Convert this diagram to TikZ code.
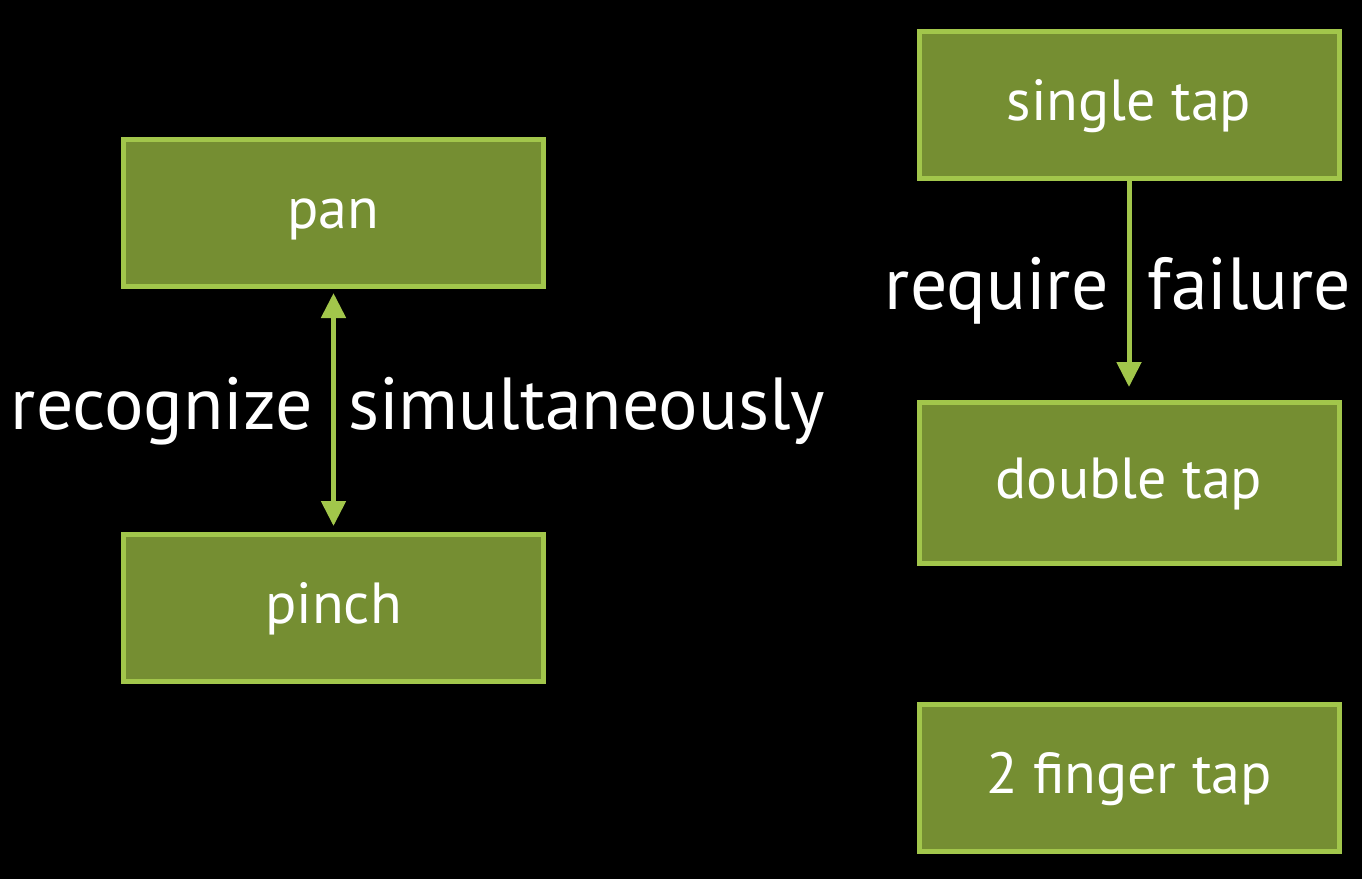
\documentclass[tikz,border=0pt]{standalone}
\usepackage{fontspec}
\setmainfont{PT Sans}
\usetikzlibrary{arrows.meta}
\definecolor{boxfill}{HTML}{758E32}
\definecolor{boxedge}{HTML}{A2C64B}
\begin{document}
\begin{tikzpicture}[
    >={Triangle[width=0.24cm,length=0.25cm]},
    gesture/.style={draw=boxedge, fill=boxfill, line width=0.05cm, rectangle, minimum width=4.2cm, minimum height=1.47cm, align=center, text=white, text height=9pt, text depth=0pt, font=\fontsize{16.5}{20}\selectfont},
    link/.style={draw=boxedge, line width=0.05cm},
    linklbl/.style={text=white, font=\fontsize{21}{25}\selectfont, inner sep=0pt, text height=11pt, text depth=0pt}
]

    % Background
    \fill[black] (0,0) rectangle (13.62,-8.79);

    % Left column
    \node[gesture] (pan) at (3.335,-2.13) {pan};
    \node[gesture] (pinch) at (3.335,-6.08) {pinch};

    \draw[link, <->, shorten <=0.04cm, shorten >=0.06cm] (pan) -- (pinch)
        node[linklbl, midway, left=0.18cm] {recognize}
        node[linklbl, midway, right=0.12cm] {simultaneously};

    % Right column
    \node[gesture] (single) at (11.29,-1.045) {single tap};
    \node[gesture, minimum height=1.61cm] (double) at (11.29,-4.83) {double tap};
    \node[gesture] (twofinger) at (11.29,-7.775) {2 finger tap};

    \draw[link, ->, shorten >=0.13cm] (single) -- (double)
        node[linklbl, midway, left=0.18cm] {require}
        node[linklbl, midway, right=0.16cm] {failure};

\end{tikzpicture}
\end{document}
